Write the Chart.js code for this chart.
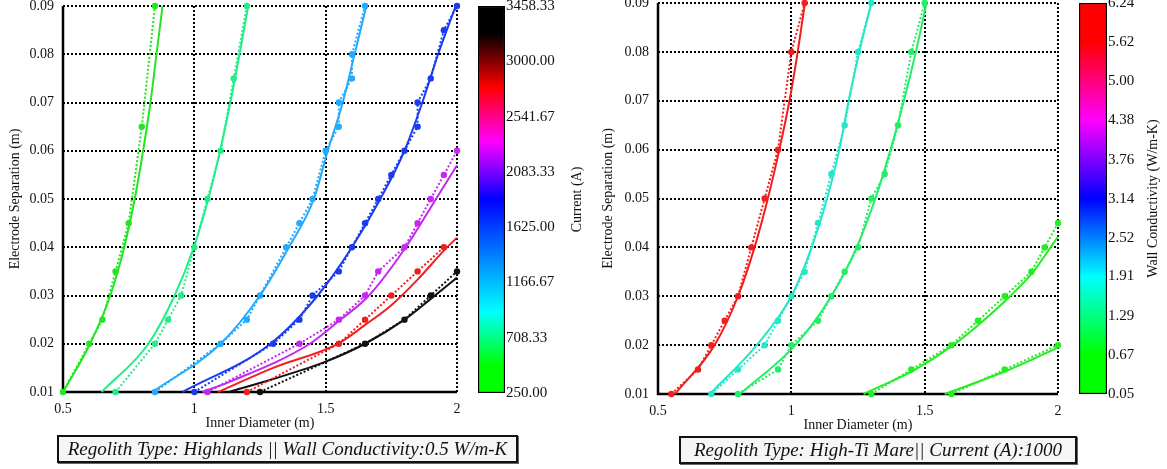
<!DOCTYPE html>
<html>
<head>
<meta charset="utf-8">
<title>Electrode separation vs inner diameter</title>
<script src="https://cdn.jsdelivr.net/npm/chart.js@4.4.1/dist/chart.umd.min.js"></script>
<style>
  html, body { margin: 0; padding: 0; background: #fff; }
  body { width: 1167px; height: 469px; position: relative; overflow: hidden; font-family: "Liberation Serif", "Times New Roman", serif; }
  canvas { position: absolute; }
  .caption {
    position: absolute; box-sizing: border-box; height: 28px;
    border: 2px solid #111; background: #f6f6f6; box-shadow: 1px 1px 0 #666;
    font-style: italic; font-size: 19px; line-height: 24px; text-align: center;
    color: #111; white-space: nowrap;
  }
</style>
</head>
<body>
<canvas id="plotA" width="471" height="450" style="left:0;top:-14px"></canvas>
<canvas id="barA" width="120" height="411" style="left:470px;top:-6px"></canvas>
<canvas id="plotB" width="477" height="455" style="left:595px;top:-17px"></canvas>
<canvas id="barB" width="96" height="415" style="left:1071px;top:-9px"></canvas>
<div class="caption" style="left:57px;top:435px;width:461px">Regolith Type: Highlands || Wall Conductivity:0.5 W/m-K</div>
<div class="caption" style="left:679px;top:436px;width:398px">Regolith Type: High-Ti Mare|| Current (A):1000</div>

<script>
// ---- Highlands, wall conductivity 0.5 W/m-K (one curve per arc current) ----
// fitted curves (solid)
const hlFitX = [
  [0.5, 0.603, 0.68, 0.733, 0.773, 0.805, 0.833, 0.856, 0.879],
  [0.647, 0.825, 0.925, 0.998, 1.053, 1.098, 1.137, 1.172, 1.205],
  [0.84, 1.1, 1.25, 1.36, 1.455, 1.508, 1.565, 1.61, 1.655],
  [0.955, 1.29, 1.47, 1.6, 1.708, 1.8, 1.868, 1.928, 1.995],
  [1.03, 1.134, 1.44, 1.55, 1.665, 1.805, 1.92, 2.0],
  [1.09, 1.3, 1.55, 1.65, 1.75, 1.85, 1.95, 2.0],
  [1.13, 1.3, 1.5, 1.65, 1.8, 1.9, 2.0]
];
const hlFitY = [
  [0.01, 0.02, 0.03, 0.04, 0.05, 0.06, 0.07, 0.08, 0.09],
  [0.01, 0.02, 0.03, 0.04, 0.05, 0.06, 0.07, 0.08, 0.09],
  [0.01, 0.02, 0.03, 0.04, 0.05, 0.06, 0.07, 0.08, 0.09],
  [0.01, 0.02, 0.03, 0.04, 0.05, 0.06, 0.07, 0.08, 0.09],
  [0.01, 0.0121, 0.02, 0.0247, 0.03, 0.04, 0.05, 0.057],
  [0.01, 0.015, 0.0201, 0.0239, 0.028, 0.0333, 0.0393, 0.042],
  [0.01, 0.0127, 0.0163, 0.02, 0.025, 0.0293, 0.0337]
];
// simulated points (dotted)
const hlPtX = [
  [0.5, 0.6, 0.65, 0.7, 0.75, 0.8, 0.85],
  [0.7, 0.85, 0.9, 0.95, 1.0, 1.05, 1.1, 1.15, 1.2],
  [0.85, 1.1, 1.2, 1.25, 1.35, 1.4, 1.45, 1.5, 1.55, 1.55, 1.6, 1.6, 1.65],
  [1.0, 1.3, 1.4, 1.45, 1.55, 1.6, 1.65, 1.7, 1.75, 1.8, 1.85, 1.85, 1.9, 1.95, 2.0],
  [1.05, 1.4, 1.55, 1.65, 1.7, 1.8, 1.85, 1.9, 1.95, 2.0],
  [1.2, 1.55, 1.65, 1.75, 1.85, 1.95],
  [1.25, 1.65, 1.8, 1.9, 2.0]
];
const hlPtY = [
  [0.01, 0.02, 0.025, 0.035, 0.045, 0.065, 0.09],
  [0.01, 0.02, 0.025, 0.03, 0.04, 0.05, 0.06, 0.075, 0.09],
  [0.01, 0.02, 0.025, 0.03, 0.04, 0.045, 0.05, 0.06, 0.065, 0.07, 0.075, 0.08, 0.09],
  [0.01, 0.02, 0.025, 0.03, 0.035, 0.04, 0.045, 0.05, 0.055, 0.06, 0.065, 0.07, 0.075, 0.085, 0.09],
  [0.01, 0.02, 0.025, 0.03, 0.035, 0.04, 0.045, 0.05, 0.055, 0.06],
  [0.01, 0.02, 0.025, 0.03, 0.035, 0.04],
  [0.01, 0.02, 0.025, 0.03, 0.035]
];
const hlColors = ['#22e622', '#22ee88', '#22aaff', '#1a3cf0', '#c428f0', '#f21e1e', '#111111'];

// ---- High-Ti Mare, current 1000 A (one curve per wall conductivity) ----
const mareFitX = [
  [0.564, 0.712, 0.8, 0.862, 0.912, 0.955, 0.993, 1.024, 1.051],
  [0.695, 0.87, 1.0, 1.076, 1.134, 1.18, 1.215, 1.255, 1.3],
  [0.807, 1.015, 1.15, 1.245, 1.315, 1.372, 1.422, 1.467, 1.507],
  [1.271, 1.464, 1.607, 1.72, 1.82, 1.907, 1.972, 2.0],
  [1.575, 1.7, 1.8, 1.9, 2.0]
];
const mareFitY = [
  [0.01, 0.02, 0.03, 0.04, 0.05, 0.06, 0.07, 0.08, 0.09],
  [0.01, 0.02, 0.03, 0.04, 0.05, 0.06, 0.07, 0.08, 0.09],
  [0.01, 0.02, 0.03, 0.04, 0.05, 0.06, 0.07, 0.08, 0.09],
  [0.01, 0.015, 0.02, 0.025, 0.03, 0.035, 0.04, 0.0422],
  [0.01, 0.0125, 0.0146, 0.017, 0.0195]
];
const marePtX = [
  [0.55, 0.65, 0.7, 0.75, 0.8, 0.85, 0.9, 0.95, 1.0, 1.05],
  [0.7, 0.8, 0.9, 0.95, 1.0, 1.05, 1.1, 1.15, 1.2, 1.25, 1.3],
  [0.8, 0.95, 1.0, 1.1, 1.15, 1.2, 1.25, 1.3, 1.35, 1.4, 1.45, 1.5],
  [1.3, 1.45, 1.6, 1.7, 1.8, 1.9, 1.95, 2.0],
  [1.6, 1.8, 2.0]
];
const marePtY = [
  [0.01, 0.015, 0.02, 0.025, 0.03, 0.04, 0.05, 0.06, 0.08, 0.09],
  [0.01, 0.015, 0.02, 0.025, 0.03, 0.035, 0.045, 0.055, 0.065, 0.08, 0.09],
  [0.01, 0.015, 0.02, 0.025, 0.03, 0.035, 0.04, 0.05, 0.055, 0.065, 0.08, 0.09],
  [0.01, 0.015, 0.02, 0.025, 0.03, 0.035, 0.04, 0.045],
  [0.01, 0.015, 0.02]
];
const mareColors = ['#f21e1e', '#25e6c8', '#22ee66', '#22ee22', '#22ee22'];

// colour bar ranges and tick labels
const currentRange = [250, 3458.33];
const currentTicks = [250, 708.33, 1166.67, 1625, 2083.33, 2541.67, 3000, 3458.33];
const condRange = [0.05, 6.24];
const condTicks = [0.05, 0.67, 1.29, 1.91, 2.52, 3.14, 3.76, 4.38, 5.00, 5.62, 6.24];

Chart.defaults.font.family = '"Liberation Serif", "Times New Roman", serif';
Chart.defaults.color = '#111';

const serif = size => ({ family: '"Liberation Serif", "Times New Roman", serif', size });

// solid black axis lines on the left and bottom of the plot area
const axisFrame = {
  id: 'axisFrame',
  beforeDatasetsDraw(chart) {
    const { ctx, chartArea: a } = chart;
    ctx.save();
    ctx.strokeStyle = '#000';
    ctx.lineWidth = 2.5;
    ctx.beginPath();
    ctx.moveTo(a.left, a.top);
    ctx.lineTo(a.left, a.bottom);
    ctx.lineTo(a.right, a.bottom);
    ctx.stroke();
    ctx.restore();
  }
};

// rotated label next to a colour bar
const cbTitle = {
  id: 'cbTitle',
  afterDraw(chart, args, opts) {
    const { ctx, chartArea: a } = chart;
    ctx.save();
    ctx.translate(a.right + opts.gap, (a.top + a.bottom) / 2);
    ctx.rotate(-Math.PI / 2);
    ctx.font = '14px "Liberation Serif", "Times New Roman", serif';
    ctx.fillStyle = '#111';
    ctx.textAlign = 'center';
    ctx.textBaseline = 'middle';
    ctx.fillText(opts.text, 0, 0);
    ctx.restore();
  }
};

function buildSets(fitX, fitY, ptX, ptY, colors) {
  const sets = [];
  colors.forEach((c, i) => {
    sets.push({
      data: fitX[i].map((x, j) => ({ x, y: fitY[i][j] })),
      showLine: true, borderColor: c, borderWidth: 2,
      cubicInterpolationMode: 'monotone', pointRadius: 0, clip: 3
    });
    sets.push({
      data: ptX[i].map((x, j) => ({ x, y: ptY[i][j] })),
      showLine: true, borderColor: c, backgroundColor: c, borderWidth: 2,
      borderDash: [2, 2], tension: 0, pointRadius: 3.2, pointBorderWidth: 0, clip: 5
    });
  });
  return sets;
}

function makePlot(id, sets, yTitlePad) {
  return new Chart(document.getElementById(id), {
    type: 'scatter',
    data: { datasets: sets },
    options: {
      responsive: false,
      animation: false,
      // padding larger than the tick-label overhang so the plot box lands at a fixed spot
      layout: { padding: { left: 0, right: 14, top: 20, bottom: 0 } },
      plugins: { legend: { display: false }, tooltip: { enabled: false } },
      scales: {
        x: {
          type: 'linear', min: 0.5, max: 2,
          ticks: { stepSize: 0.5, font: serif(14), padding: 9, maxRotation: 0, autoSkip: false, callback: v => String(+v.toFixed(2)) },
          grid: { color: '#000', lineWidth: 2, drawTicks: false },
          border: { display: false, dash: [2, 2] },
          title: { display: true, text: 'Inner Diameter (m)', font: serif(14), padding: { top: 0, bottom: 4 } },
          afterFit: s => { s.height = 44; }
        },
        y: {
          type: 'linear', min: 0.01, max: 0.09,
          ticks: { stepSize: 0.01, font: serif(14), padding: 9, autoSkip: false, callback: v => v.toFixed(2) },
          grid: { color: '#000', lineWidth: 2, drawTicks: false },
          border: { display: false, dash: [2, 2] },
          title: { display: true, text: 'Electrode Separation (m)', font: serif(14), padding: { top: yTitlePad, bottom: 0 } },
          afterFit: s => { s.width = 63; }
        }
      }
    },
    plugins: [axisFrame]
  });
}

function makeColorbar(id, range, ticks, stops, title, axisWidth, gap) {
  const [lo, hi] = range;
  return new Chart(document.getElementById(id), {
    type: 'bar',
    data: {
      labels: [''],
      datasets: [{
        data: [[lo, hi]],
        backgroundColor: ctx => {
          const chart = ctx.chart;
          if (!chart.chartArea) return '#888';
          const y = chart.scales.y;
          const g = chart.ctx.createLinearGradient(0, y.getPixelForValue(lo), 0, y.getPixelForValue(hi));
          stops.forEach(([f, c]) => g.addColorStop(f, c));
          return g;
        },
        borderColor: '#000', borderWidth: 1.5, borderSkipped: false,
        barPercentage: 1, categoryPercentage: 1
      }]
    },
    options: {
      responsive: false,
      animation: false,
      layout: { padding: { left: 8, right: 0, top: 12, bottom: 12 } },
      plugins: {
        legend: { display: false }, tooltip: { enabled: false },
        cbTitle: { text: title, gap }
      },
      scales: {
        x: { display: false },
        y: {
          position: 'right', min: lo, max: hi,
          afterBuildTicks: s => { s.ticks = ticks.map(v => ({ value: v })); },
          ticks: { font: serif(15), padding: 1, autoSkip: false, callback: v => v.toFixed(2) },
          grid: { display: false, drawTicks: false },
          border: { display: false },
          afterFit: s => { s.width = axisWidth; }
        }
      }
    },
    plugins: [cbTitle]
  });
}

makePlot('plotA', buildSets(hlFitX, hlFitY, hlPtX, hlPtY, hlColors), 7);
makePlot('plotB', buildSets(mareFitX, mareFitY, marePtX, marePtY, mareColors), 5);

makeColorbar('barA', currentRange, currentTicks, [
  [0, '#00ff00'], [0.07, '#00ff00'], [0.21, '#00ffff'], [0.5, '#0000ff'],
  [0.65, '#ff00ff'], [0.79, '#ff0000'], [0.93, '#000000'], [1, '#000000']
], 'Current (A)', 85, 72);

makeColorbar('barB', condRange, condTicks, [
  [0, '#00ff00'], [0.1, '#00ff00'], [0.3, '#00ffff'], [0.5, '#0000ff'],
  [0.7, '#ff00ff'], [0.9, '#ff0000'], [1, '#ff0000']
], 'Wall Conductivity (W/m-K)', 60, 46);
</script>
</body>
</html>
